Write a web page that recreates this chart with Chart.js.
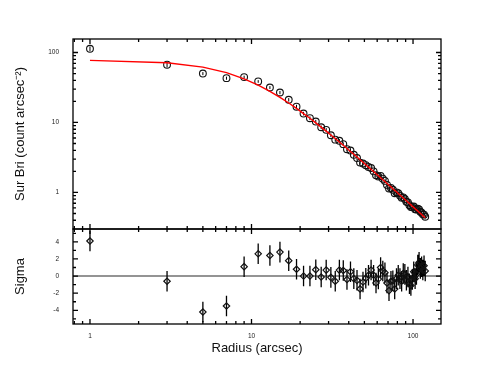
<!DOCTYPE html>
<html>
<head>
<meta charset="utf-8">
<script src="https://cdn.jsdelivr.net/npm/chart.js@4"></script>
<style>
  html, body { margin: 0; padding: 0; background: #fff; }
</style>
</head>
<body>
<canvas id="myChart" width="491" height="382"></canvas>
<script>
// radial profile: annuli centres (arcsec)
const radius = [1, 3, 5, 7, 9, 11, 13, 15, 17, 19, 21, 23, 25, 27, 29, 31, 33, 35, 37, 39,
  41, 43, 45, 47, 49, 51, 53, 55, 57, 59, 61, 63, 65, 67, 69, 71, 73, 75, 77, 79,
  81, 83, 85, 87, 89, 91, 93, 95, 97, 99, 101, 103, 105, 107, 109, 111, 113, 115, 117, 119];

// surface brightness (count arcsec^-2)
const surBri = [113, 67, 50, 43, 44.5, 38.6, 31.6, 26.8, 21.1, 16.8, 13.4, 11.5, 10.3, 8.54, 7.84, 6.57, 5.68, 5.47, 4.9, 4.15,
  3.97, 3.45, 3.1, 2.67, 2.59, 2.45, 2.31, 2.23, 2.0, 1.76, 1.69, 1.72, 1.57, 1.46, 1.28, 1.14, 1.16, 1.09, 0.974, 1.0,
  0.971, 0.9, 0.842, 0.847, 0.804, 0.735, 0.721, 0.656, 0.62, 0.621, 0.629, 0.575, 0.57, 0.584, 0.571, 0.529, 0.515, 0.486, 0.481, 0.45];

const surBriErr = [9, 5, 2.5, 2.2, 2.2, 1.7, 1.5, 1.4, 1.2, 1.1, 0.8, 0.7, 0.6, 0.52, 0.47, 0.4, 0.35, 0.32, 0.29, 0.26,
  0.24, 0.21, 0.19, 0.17, 0.16, 0.15, 0.14, 0.13, 0.12, 0.11, 0.1, 0.1, 0.09, 0.086, 0.08, 0.076, 0.072, 0.068, 0.064, 0.061,
  0.058, 0.055, 0.052, 0.05, 0.048, 0.045, 0.044, 0.042, 0.04, 0.038, 0.037, 0.035, 0.034, 0.033, 0.031, 0.03, 0.029, 0.028, 0.027, 0.026];

// fitted model (red line)
const model = [77.2, 71.3, 61.9, 51.6, 42.1, 34.2, 27.9, 22.9, 19.0, 15.9, 13.4, 11.5, 9.88, 8.59, 7.52, 6.63, 5.89, 5.25, 4.72, 4.25,
  3.85, 3.51, 3.2, 2.93, 2.7, 2.49, 2.3, 2.14, 1.99, 1.85, 1.73, 1.62, 1.52, 1.43, 1.34, 1.27, 1.2, 1.13, 1.07, 1.02,
  0.965, 0.917, 0.873, 0.832, 0.794, 0.758, 0.725, 0.693, 0.664, 0.636, 0.611, 0.586, 0.563, 0.542, 0.521, 0.502, 0.483, 0.466, 0.449, 0.434];

// residuals
const sigma = [4.1, -0.6, -4.2, -3.5, 1.1, 2.6, 2.4, 2.8, 1.8, 0.8, 0.0, 0.0, 0.75, -0.1, 0.7, -0.15, -0.6, 0.7, 0.65, -0.4,
  0.5, -0.3, -0.5, -1.5, -0.7, -0.25, 0.1, 0.7, 0.1, -0.8, -0.35, 1.0, 0.6, 0.4, -0.8, -1.7, -0.6, -0.55, -1.5, -0.3,
  0.1, -0.3, -0.6, 0.3, 0.2, -0.5, -0.1, -0.9, -1.1, -0.4, 0.5, -0.3, 0.2, 1.3, 1.6, 0.9, 1.1, 0.7, 1.2, 0.6];
const sigmaErr = 1.2;

const xTicks = [1, 10, 100];
const sbTicks = [1, 10, 100];
const sigmaTicks = [-4, -2, 0, 2, 4];

const xRange = [0.785, 149];
const sbRange = [0.324, 156];
const sigmaRange = [-5.6, 5.5];

const tickFont = { family: "Liberation Sans", size: 6.5 };
const titleFont = { family: "Liberation Sans", size: 13 };

function logMarks(min, max) {
  let out = [];
  for (let e = Math.floor(Math.log10(min)); e <= Math.ceil(Math.log10(max)); e++) {
    for (let k = 1; k < 10; k++) {
      let v = k * Math.pow(10, e);
      if (v >= min && v <= max) out.push({ v: v, major: k == 1 });
    }
  }
  return out;
}

function linMarks(min, max) {
  let out = [];
  for (let v = Math.ceil(min); v <= max; v++) {
    out.push({ v: v, major: v % 2 == 0 });
  }
  return out;
}

const framePlugin = {
  id: "frame",
  beforeDatasetsDraw(chart) {
    const ctx = chart.ctx;
    const area = chart.chartArea;
    const xs = chart.scales.x;
    const sb = chart.scales.ySB;
    const sg = chart.scales.ySig;
    ctx.save();
    // zero line
    let y0 = sg.getPixelForValue(0);
    ctx.strokeStyle = "#707070";
    ctx.lineWidth = 1.6;
    ctx.beginPath();
    ctx.moveTo(area.left, y0);
    ctx.lineTo(area.right, y0);
    ctx.stroke();
    // error bars
    ctx.strokeStyle = "#000";
    ctx.lineWidth = 1;
    ctx.beginPath();
    radius.forEach((r, i) => {
      let px = xs.getPixelForValue(r);
      ctx.moveTo(px, sb.getPixelForValue(surBri[i] + surBriErr[i]));
      ctx.lineTo(px, sb.getPixelForValue(surBri[i] - surBriErr[i]));
    });
    ctx.stroke();
    ctx.lineWidth = 1.3;
    ctx.beginPath();
    radius.forEach((r, i) => {
      let px = xs.getPixelForValue(r);
      ctx.moveTo(px, sg.getPixelForValue(sigma[i] + sigmaErr));
      ctx.lineTo(px, sg.getPixelForValue(sigma[i] - sigmaErr));
    });
    ctx.stroke();
    ctx.restore();
  },
  afterDraw(chart) {
    const ctx = chart.ctx;
    const area = chart.chartArea;
    const xs = chart.scales.x;
    const panels = [
      { s: chart.scales.ySB, marks: logMarks(sbRange[0], sbRange[1]) },
      { s: chart.scales.ySig, marks: linMarks(sigmaRange[0], sigmaRange[1]) },
    ];
    const xMarks = logMarks(xRange[0], xRange[1]);
    ctx.save();
    ctx.strokeStyle = "#000";
    ctx.lineWidth = 1.3;
    panels.forEach((p) => {
      let top = p.s.top, bot = p.s.bottom;
      ctx.strokeRect(area.left, top, area.right - area.left, bot - top);
      ctx.beginPath();
      xMarks.forEach((m) => {
        let px = xs.getPixelForValue(m.v);
        let len = m.major ? 5 : 3;
        ctx.moveTo(px, top);
        ctx.lineTo(px, top + len);
        ctx.moveTo(px, bot);
        ctx.lineTo(px, bot - len);
      });
      p.marks.forEach((m) => {
        let py = p.s.getPixelForValue(m.v);
        let len = m.major ? 5 : 3;
        ctx.moveTo(area.left, py);
        ctx.lineTo(area.left + len, py);
        ctx.moveTo(area.right, py);
        ctx.lineTo(area.right - len, py);
      });
      ctx.stroke();
    });
    ctx.restore();
  },
};

const data = {
  datasets: [
    {
      type: "line",
      label: "model",
      yAxisID: "ySB",
      data: radius.map((r, i) => ({ x: r, y: model[i] })),
      borderColor: "#ff0000",
      borderWidth: 1.4,
      pointRadius: 0,
      tension: 0,
      order: 0,
    },
    {
      type: "scatter",
      label: "Sur Bri",
      yAxisID: "ySB",
      data: radius.map((r, i) => ({ x: r, y: surBri[i] })),
      pointStyle: "circle",
      pointRadius: 3.4,
      borderColor: "#111",
      borderWidth: 1.1,
      backgroundColor: "rgba(0,0,0,0)",
      order: 1,
    },
    {
      type: "scatter",
      label: "Sigma",
      yAxisID: "ySig",
      data: radius.map((r, i) => ({ x: r, y: sigma[i] })),
      pointStyle: "rectRot",
      pointRadius: 3.2,
      borderColor: "#111",
      borderWidth: 1.2,
      backgroundColor: "rgba(0,0,0,0)",
      order: 1,
    },
  ],
};

function setTicks(list) {
  return (scale) => {
    scale.ticks = list.map((v) => ({ value: v }));
  };
}

const config = {
  data: data,
  plugins: [framePlugin],
  options: {
    responsive: false,
    animation: false,
    layout: {
      padding: { top: 39, right: 50, left: 0, bottom: 0 },
    },
    plugins: {
      legend: { display: false },
      tooltip: { enabled: false },
    },
    scales: {
      x: {
        type: "logarithmic",
        min: xRange[0],
        max: xRange[1],
        grid: { display: false },
        border: { display: false },
        afterBuildTicks: setTicks(xTicks),
        afterFit: (s) => { s.height = 58; },
        ticks: {
          font: tickFont,
          color: "#222",
          padding: 0,
          maxRotation: 0,
          autoSkip: false,
          callback: (v) => String(v),
        },
        title: {
          display: true,
          text: "Radius (arcsec)",
          font: titleFont,
          color: "#111",
          padding: { top: 0, bottom: 26 },
        },
      },
      // first in the stack is drawn at the bottom
      ySig: {
        type: "linear",
        position: "left",
        stack: "panels",
        stackWeight: 1,
        min: sigmaRange[0],
        max: sigmaRange[1],
        grid: { display: false },
        border: { display: false },
        afterBuildTicks: setTicks(sigmaTicks),
        afterFit: (s) => { s.width = 73; },
        ticks: {
          font: tickFont,
          color: "#222",
          padding: 6,
          autoSkip: false,
          callback: (v) => String(v),
        },
        title: {
          display: true,
          text: "Sigma",
          font: titleFont,
          color: "#111",
          padding: { top: 13, bottom: 0 },
        },
      },
      ySB: {
        type: "logarithmic",
        position: "left",
        stack: "panels",
        stackWeight: 2,
        min: sbRange[0],
        max: sbRange[1],
        grid: { display: false },
        border: { display: false },
        afterBuildTicks: setTicks(sbTicks),
        afterFit: (s) => { s.width = 73; },
        ticks: {
          font: tickFont,
          color: "#222",
          padding: 6,
          autoSkip: false,
          callback: (v) => String(v),
        },
        title: {
          display: true,
          text: "Sur Bri (count arcsec\u207B\u00B2)",
          font: titleFont,
          color: "#111",
          padding: { top: 13, bottom: 0 },
        },
      },
    },
  },
};

const myChart = new Chart(document.getElementById("myChart"), config);
</script>
</body>
</html>
